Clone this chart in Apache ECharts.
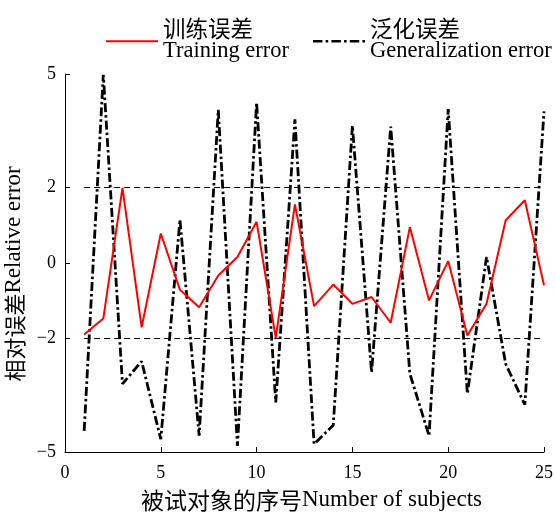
<!DOCTYPE html>
<html>
<head>
<meta charset="utf-8">
<script src="https://cdn.jsdelivr.net/npm/echarts@6/dist/echarts.min.js"></script>
<style>html,body{margin:0;padding:0;background:#fff}#c{width:556px;height:512px}</style>
</head>
<body>
<div id="c"></div>
<script>
const subjects = [1,2,3,4,5,6,7,8,9,10,11,12,13,14,15,16,17,18,19,20,21,22,23,24,25];
const trainingError = [-1.89,-1.47,1.99,-1.70,0.78,-0.71,-1.17,-0.33,0.16,1.09,-1.98,1.55,-1.14,-0.57,-1.08,-0.90,-1.58,0.95,-0.99,0.05,-1.92,-1.08,1.13,1.66,-0.59];
const generalizationError = [-4.44,4.98,-3.20,-2.60,-4.66,1.15,-4.57,4.05,-4.84,4.24,-3.69,3.80,-4.79,-4.29,3.63,-2.89,3.61,-2.93,-4.57,4.07,-3.46,0.16,-2.67,-3.75,4.01];
const yTicks = [-5,-2,0,2,5];
const refLevels = [2,-2];
const seriesNames = ['训练误差\nTraining error','泛化误差\nGeneralization error'];
const xNameCn = '被试对象的序号', xNameEn = 'Number of subjects';
const yNameCn = '相对误差', yNameEn = 'Relative error';

const SERIF = '"Liberation Serif", "Times New Roman", serif';
const CJK = '"Noto Sans CJK SC", sans-serif';
const FONT = '"Liberation Serif", "Noto Sans CJK SC", serif';
const chart = echarts.init(document.getElementById('c'));
const pair = (ys) => subjects.map((x,i)=>[x, ys[i]]);
const dashDotIcon = 'path://M0,0h9v2.6h-9zM12,0h2.5v2.6h-2.5zM17.5,0h9v2.6h-9zM29.5,0h2.5v2.6h-2.5zM35,0h9v2.6h-9zM47,0h2.5v2.6h-2.5z';
const solidIcon = 'path://M0,0h52v2h-52z';
chart.setOption({
  animation:false,
  textStyle:{fontFamily:FONT},
  grid:{left:65, right:12, top:74, bottom:60, containLabel:false, outerBoundsMode:'none'},
  legend:{
    left:106, top:20, width:450, padding:0, itemWidth:52, itemHeight:14, itemGap:24,
    textStyle:{fontFamily:FONT, fontSize:22.5, lineHeight:20, color:'#000'},
    data:[{name:seriesNames[0], icon:solidIcon, itemStyle:{color:'#ff0000'}},
          {name:seriesNames[1], icon:dashDotIcon, itemStyle:{color:'#000'}}]
  },
  xAxis:{
    type:'value', min:0, max:25, interval:5,
    name:'{c|'+xNameCn+'}{e|'+xNameEn+'}', nameLocation:'middle', nameGap:35,
    nameTextStyle:{color:'#000', padding:[0,0,0,14], rich:{
      c:{fontFamily:CJK, fontSize:23, color:'#000', lineHeight:26},
      e:{fontFamily:SERIF, fontSize:23, color:'#000', lineHeight:26}}},
    axisLine:{onZero:false, lineStyle:{color:'#000', width:1}},
    axisTick:{inside:true, length:5, lineStyle:{color:'#000'}},
    axisLabel:{fontFamily:SERIF, fontSize:18, color:'#000', margin:12},
    splitLine:{show:false}
  },
  yAxis:{
    type:'value', min:-5, max:5,
    name:'{c|'+yNameCn+'}{e|'+yNameEn+'}', nameLocation:'middle', nameGap:16,
    nameTextStyle:{color:'#000', padding:[0,22,0,0], rich:{
      c:{fontFamily:CJK, fontSize:22, color:'#000', lineHeight:24},
      e:{fontFamily:SERIF, fontSize:23, color:'#000', lineHeight:24}}},
    axisLine:{show:true, onZero:false, lineStyle:{color:'#000', width:1}},
    axisTick:{show:true, inside:true, length:5, customValues:yTicks, lineStyle:{color:'#000'}},
    axisLabel:{fontFamily:SERIF, fontSize:18, color:'#000', margin:9, customValues:yTicks,
      formatter:(v)=>String(v).replace('-','\u2212')},
    splitLine:{show:false}
  },
  series:[
    {name:seriesNames[0], type:'line', data:pair(trainingError), symbol:'none',
     lineStyle:{color:'#ff0000', width:2}, itemStyle:{color:'#ff0000'}, z:3,
     markLine:{silent:true, symbol:'none', label:{show:false},
       lineStyle:{color:'#000', type:[6,4], width:1},
       data: refLevels.map(v=>[{coord:[subjects[0], v]},{coord:[subjects[subjects.length-1], v]}])}},
    {name:seriesNames[1], type:'line', data:pair(generalizationError), symbol:'none',
     lineStyle:{color:'#000', width:2.8, type:[9,3,2.5,3]}, itemStyle:{color:'#000'}, z:2}
  ]
});
</script>
</body>
</html>
